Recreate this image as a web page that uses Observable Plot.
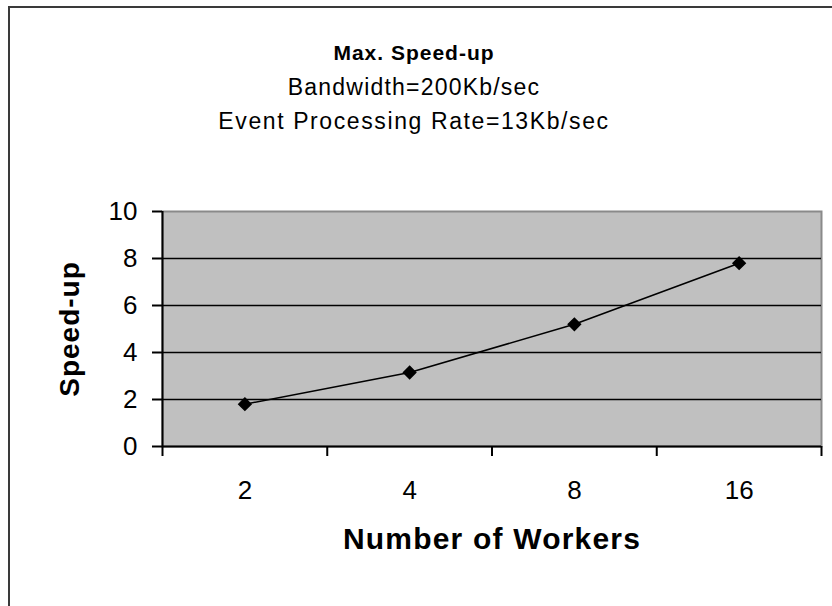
<!DOCTYPE html>
<html>
<head>
<meta charset="utf-8">
<script src="https://cdn.jsdelivr.net/npm/d3@7"></script>
<script src="https://cdn.jsdelivr.net/npm/@observablehq/plot@0.6"></script>
<style>
  html, body { margin: 0; padding: 0; background: #fff; overflow: hidden; }
  #wrap { position: relative; width: 832px; height: 606px; overflow: hidden; }
  #border { position: absolute; left: 8px; top: 6px; width: 900px; height: 700px;
            border-left: 2px solid #3a3a3a; border-top: 2px solid #3a3a3a; pointer-events: none; }
  .spaced text { letter-spacing: 1px; }
  .wide text { letter-spacing: 1.2px; }
  .wider text { letter-spacing: 1.6px; }
</style>
</head>
<body>
<div id="wrap"><div id="border"></div></div>
<script>
const workers = ["2", "4", "8", "16"];
const speedup = [1.8, 3.15, 5.2, 7.8];
const yTicks = [0, 2, 4, 6, 8, 10];
const gridValues = [2, 4, 6, 8];
const titleLines = ["Max. Speed-up", "Bandwidth=200Kb/sec", "Event Processing Rate=13Kb/sec"];
const xTitle = "Number of Workers";
const yTitle = "Speed-up";

const data = workers.map((w, i) => ({pos: i + 0.5, workers: w, speedup: speedup[i]}));
const bounds = d3.range(workers.length + 1);
const centers = workers.map((w, i) => i + 0.5);
const font = "Liberation Sans, Arial, sans-serif";

const chart = Plot.plot({
  width: 832,
  height: 606,
  marginLeft: 162,
  marginRight: 11,
  marginTop: 211,
  marginBottom: 160,
  style: {fontFamily: font, background: "transparent", color: "black"},
  x: {domain: [0, workers.length], axis: null, label: null},
  y: {domain: [0, 10], axis: null, label: null},
  marks: [
    Plot.frame({fill: "#c0c0c0", stroke: "#8a8a8a", strokeWidth: 2}),
    Plot.ruleY(gridValues, {stroke: "black", strokeWidth: 1.6}),
    Plot.ruleY([0], {stroke: "black", strokeWidth: 2}),
    Plot.ruleX([0], {stroke: "black", strokeWidth: 2}),
    Plot.axisY({ticks: yTicks, label: null, tickSize: 10, tickPadding: 15, fontSize: 26, strokeWidth: 2, tickFormat: d => String(d)}),
    Plot.axisX({ticks: bounds, label: null, tickSize: 10, strokeWidth: 2, tickFormat: () => ""}),
    Plot.axisX({ticks: centers, label: null, tickSize: 0, tickPadding: 34, fontSize: 26, tickFormat: d => workers[Math.floor(d)]}),
    Plot.line(data, {x: "pos", y: "speedup", stroke: "black", strokeWidth: 1.6}),
    Plot.dot(data, {x: "pos", y: "speedup", symbol: "diamond2", r: 5.5, fill: "black", stroke: "black"}),
    Plot.text([titleLines[0]], {frameAnchor: "top", dx: -78, dy: -166, fontSize: 21, fontWeight: "bold", fill: "black", className: "spaced"}),
    Plot.text([titleLines[1]], {frameAnchor: "top", dx: -78, dy: -133, fontSize: 23, fill: "black", className: "wide"}),
    Plot.text([titleLines[2]], {frameAnchor: "top", dx: -78, dy: -99, fontSize: 23, fill: "black", className: "wider"}),
    Plot.text([xTitle], {frameAnchor: "bottom", dy: 102, fontSize: 30, fontWeight: "bold", fill: "black", className: "wide"}),
    Plot.text([yTitle], {frameAnchor: "left", textAnchor: "middle", dx: -92, rotate: -90, fontSize: 28, fontWeight: "bold", fill: "black", className: "spaced"})
  ]
});
document.getElementById("wrap").appendChild(chart);
chart.style.position = "absolute";
chart.style.left = "0px";
chart.style.top = "0px";
</script>
</body>
</html>
